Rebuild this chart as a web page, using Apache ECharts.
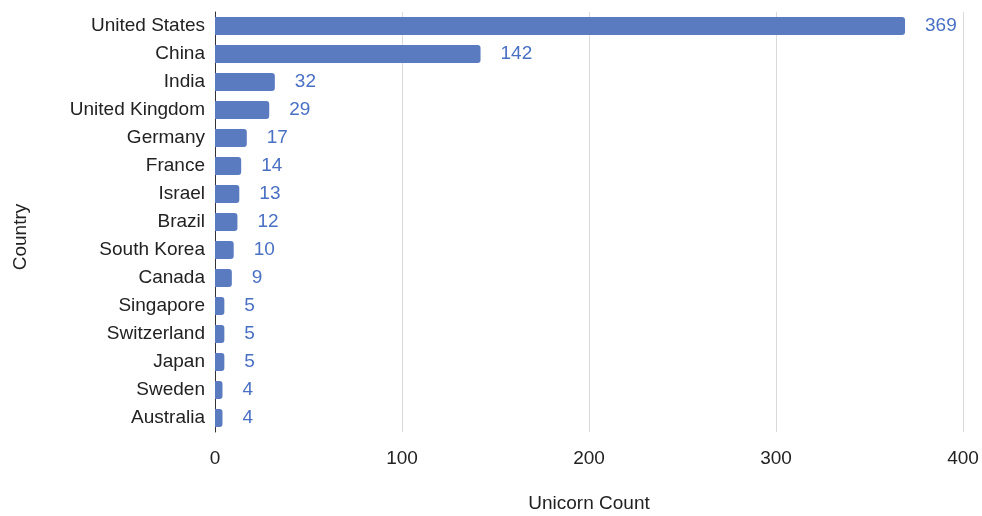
<!DOCTYPE html>
<html><head><meta charset="utf-8">
<script src="https://cdn.jsdelivr.net/npm/echarts@6/dist/echarts.min.js"></script>
<style>html,body{margin:0;padding:0;background:#fff}#c{width:982px;height:516px}</style>
</head><body><div id="c"></div>
<script>
const countries = ["United States","China","India","United Kingdom","Germany","France","Israel","Brazil","South Korea","Canada","Singapore","Switzerland","Japan","Sweden","Australia"];
const counts = [369,142,32,29,17,14,13,12,10,9,5,5,5,4,4];
const xTicks = [0,100,200,300,400];

const chart = echarts.init(document.getElementById('c'));
chart.setOption({
  animation:false,
  textStyle:{fontFamily:'Liberation Sans, Arial, sans-serif'},
  grid:{left:215,right:19,top:12,bottom:84,containLabel:false,outerBoundsMode:'none'},
  xAxis:{type:'value',min:xTicks[0],max:xTicks[xTicks.length-1],interval:100,
    name:'Unicorn Count',nameLocation:'middle',nameGap:62,
    nameTextStyle:{fontSize:19,color:'#222'},
    axisLine:{show:false},axisTick:{show:false},
    axisLabel:{fontSize:19,color:'#222',margin:17},
    splitLine:{show:true,lineStyle:{color:'#d9d9d9',width:1}}},
  yAxis:{type:'category',data:countries,inverse:true,
    name:'Country',nameLocation:'middle',nameGap:185,nameRotate:90,
    nameTextStyle:{fontSize:19,color:'#222',padding:[0,30,0,0]},
    axisLine:{show:true,lineStyle:{color:'#333',width:1}},axisTick:{show:false},
    axisLabel:{fontSize:19,color:'#222',margin:10}},
  series:[{type:'bar',data:counts,barCategoryGap:'35%',
    itemStyle:{color:'#5b7bc0',borderRadius:[0,3,3,0]},
    label:{show:true,position:'right',distance:20,fontSize:19,color:'#4a70c4'}}]
});
</script></body></html>
